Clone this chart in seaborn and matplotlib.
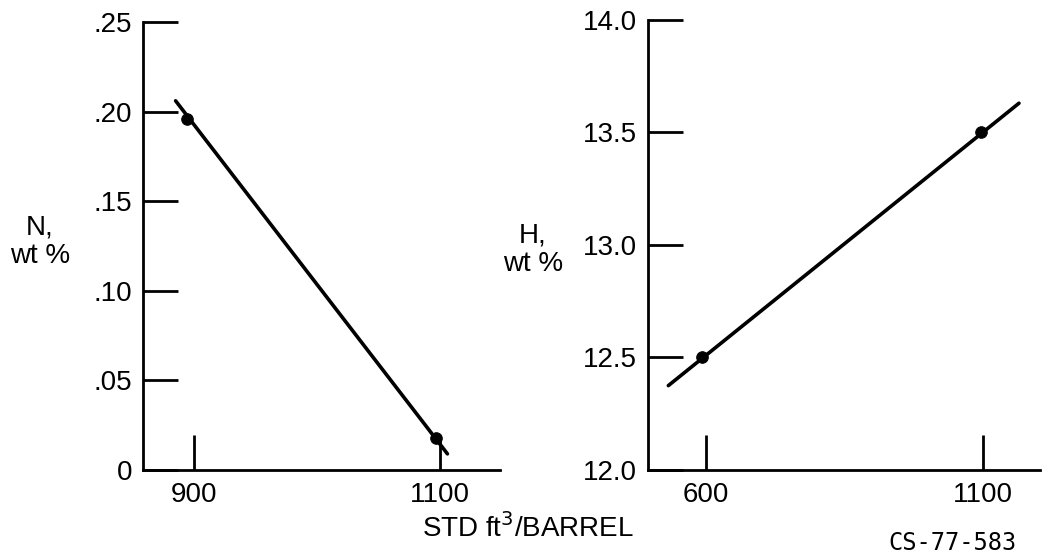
import seaborn as sns
import matplotlib.pyplot as plt

# N, wt % vs hydrogen consumption
n_pts_x = [894, 1097]
n_pts_y = [0.196, 0.018]
n_fit_x = [885, 1106]
n_fit_y = [0.206, 0.009]
n_ticks = [0, 0.05, 0.10, 0.15, 0.20, 0.25]
n_ticklabels = ["0", ".05", ".10", ".15", ".20", ".25"]
n_xticks = [900, 1100]

# H, wt % vs hydrogen consumption
h_pts_x = [593, 1097]
h_pts_y = [12.5, 13.5]
h_fit_x = [532, 1165]
h_fit_y = [12.375, 13.63]
h_ticks = [12.0, 12.5, 13.0, 13.5, 14.0]
h_ticklabels = ["12.0", "12.5", "13.0", "13.5", "14.0"]
h_xticks = [600, 1100]

sns.set_theme(style="ticks")
plt.rcParams['font.family'] = ['Liberation Sans', 'DejaVu Sans']
plt.rcParams['text.color'] = 'black'

fig = plt.figure(figsize=(10.44, 5.56), dpi=100)
ax1 = fig.add_axes([0.137, 0.1547, 0.342, 0.8058])
ax2 = fig.add_axes([0.6207, 0.1547, 0.3755, 0.8094])


def draw_panel(ax, fx, fy, px, py, xticks, yticks, ylabels, xlim):
    sns.lineplot(x=fx, y=fy, ax=ax, color="black", linewidth=2.6)
    sns.scatterplot(x=px, y=py, ax=ax, color="black", s=70, edgecolor="black", zorder=3)
    ax.set_xlim(*xlim)
    ax.set_ylim(yticks[0], yticks[-1])
    ax.set_xticks(xticks)
    ax.set_xticklabels([str(t) for t in xticks])
    ax.set_yticks(yticks)
    ax.set_yticklabels(ylabels)
    sns.despine(ax=ax)
    for s in ["left", "bottom"]:
        ax.spines[s].set_linewidth(2.0)
        ax.spines[s].set_color("black")
    ax.tick_params(axis="both", direction="in", length=25, width=2.0, color="black",
                   labelsize=20, labelcolor="black")
    ax.tick_params(axis="y", pad=8)
    ax.tick_params(axis="x", pad=9)
    ax.set_xlabel("")
    ax.set_ylabel("")


draw_panel(ax1, n_fit_x, n_fit_y, n_pts_x, n_pts_y, n_xticks, n_ticks, n_ticklabels, (858.5, 1148.8))
draw_panel(ax2, h_fit_x, h_fit_y, h_pts_x, h_pts_y, h_xticks, h_ticks, h_ticklabels, (495.3, 1203))

fig.text(40 / 1044, 1 - 242 / 556, "N,\nwt %", ha="center", va="center", fontsize=20, linespacing=1.1)
fig.text(533 / 1044, 1 - 250 / 556, "H,\nwt %", ha="center", va="center", fontsize=20, linespacing=1.1)
fig.text(528 / 1044, 1 - 528 / 556, "STD ft$^3$/BARREL", ha="center", va="center", fontsize=20)
fig.text(953 / 1044, 1 - 543 / 556, "CS-77-583", ha="center", va="center", fontsize=17,
         family="DejaVu Sans Mono")

fig.savefig("out.png", dpi=100, facecolor="white")
